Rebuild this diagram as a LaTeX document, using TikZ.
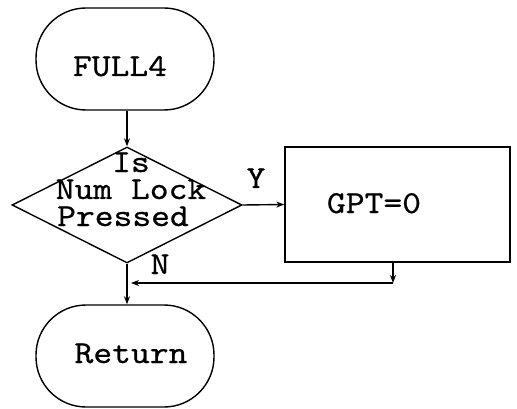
\documentclass[tikz,border=0pt]{standalone}
\usepackage{fontspec}
\setmonofont{lmmono10-regular.otf}[FakeStretch=1.12,FakeBold=0.6]
\usetikzlibrary{shapes.geometric,arrows.meta}
\begin{document}
\begin{tikzpicture}[x=1pt,y=-1pt,line width=1.4pt,
  term/.style={draw,rectangle,rounded corners=50pt,minimum width=178pt,minimum height=102pt,inner sep=0pt},
  dec/.style={draw,diamond,minimum width=230pt,minimum height=116pt,inner sep=0pt},
  proc/.style={draw,rectangle,minimum width=225pt,minimum height=115pt,inner sep=0pt},
  txt/.style={font=\ttfamily\fontsize{32}{32}\selectfont,anchor=base,inner sep=0pt},
  arr/.style={-{Stealth[length=8pt,width=6pt]}}]
\useasboundingbox (0,0) rectangle (517,409);
\node[term] (start) at (125,59) {};
\node[txt] (tstart) at (120,76) {FULL4};
\node[dec] (q) at (127,205) {};
\node[txt] (q1) at (131,172) {Is};
\node[txt] (q2) at (131,199) {Num Lock};
\node[txt] (q3) at (123,226) {Pressed};
\node[proc] (gpt) at (397.5,204.5) {};
\node[txt] (tgpt) at (374,213) {GPT=0};
\node[term] (ret) at (125,356) {};
\node[txt] (tret) at (131,363) {Return};
\node[txt] (y) at (256,188) {Y};
\node[txt] (n) at (160,274) {N};
\coordinate (c1) at (393,283);
\coordinate (c2) at (127,283);
\draw[arr] (start.south -| q.north) -- (q.north);
\draw[arr] (q.east) -- (gpt.west);
\draw[arr] (q.south) -- (ret.north -| q.south);
\draw[arr] (gpt.south -| c1) -- (c1);
\draw[arr] (c1) -- ([xshift=4pt]c2);
\end{tikzpicture}
\end{document}
